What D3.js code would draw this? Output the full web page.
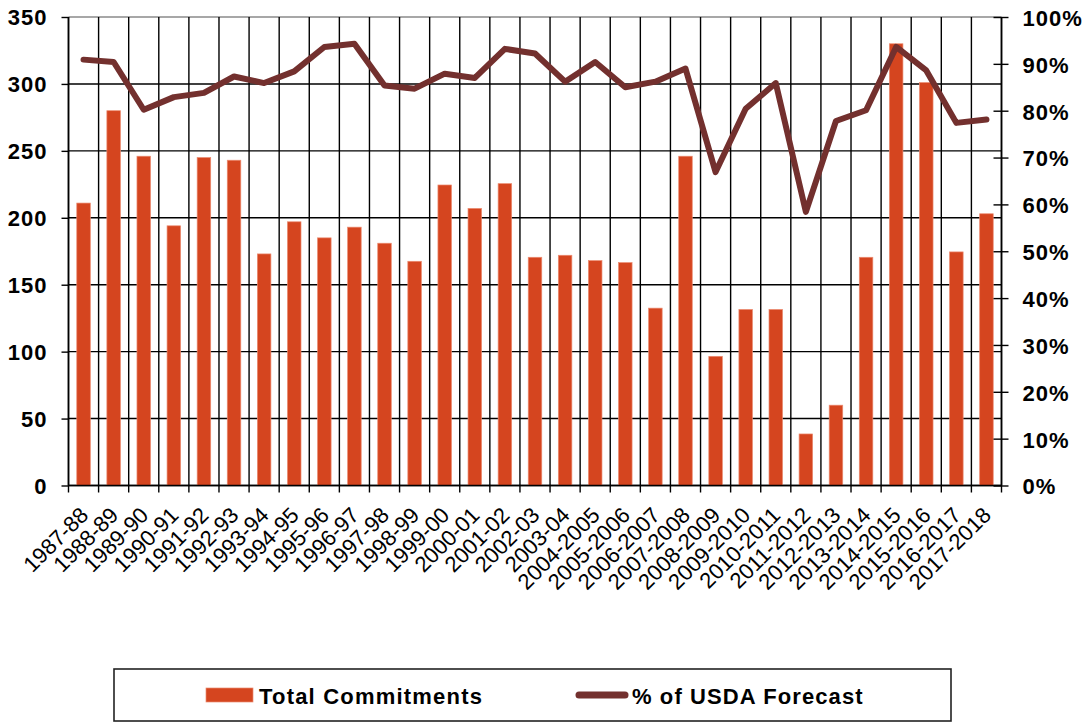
<!DOCTYPE html>
<html>
<head>
<meta charset="utf-8">
<script src="https://cdn.jsdelivr.net/npm/d3@7"></script>
<style>
  html, body { margin: 0; padding: 0; background: #fff; }
  svg { display: block; }
  text { font-family: "Liberation Sans", Arial, sans-serif; }
</style>
</head>
<body>
<svg id="chart" width="1091" height="723"></svg>
<script>
const categories = ["1987-88","1988-89","1989-90","1990-91","1991-92","1992-93","1993-94","1994-95","1995-96","1996-97","1997-98","1998-99","1999-00","2000-01","2001-02","2002-03","2003-04","2004-2005","2005-2006","2006-2007","2007-2008","2008-2009","2009-2010","2010-2011","2011-2012","2012-2013","2013-2014","2014-2015","2015-2016","2016-2017","2017-2018"];
const totalCommitments = [211, 280, 246, 194, 245, 243, 173, 197, 185, 193, 181, 167.5, 224.5, 207, 225.5, 170.5, 172, 168, 166.5, 132.5, 246, 96.5, 131.5, 131.5, 38.5, 60, 170.5, 330, 301, 174.5, 203];
const pctOfForecast = [90.9, 90.4, 80.2, 82.9, 83.8, 87.3, 85.9, 88.4, 93.6, 94.3, 85.4, 84.7, 87.9, 87.0, 93.2, 92.2, 86.2, 90.4, 85.0, 86.2, 89.0, 66.9, 80.4, 85.9, 58.4, 77.8, 80.1, 93.6, 88.6, 77.4, 78.1];
const leftTicks = [0, 50, 100, 150, 200, 250, 300, 350];
const rightTicks = [0, 10, 20, 30, 40, 50, 60, 70, 80, 90, 100];
const seriesNames = ["Total Commitments", "% of USDA Forecast"];

const barColor = "#D5451F";
const lineColor = "#73302E";

const svg = d3.select("#chart");
const pLeft = 68.5, pRight = 1001.5, pTop = 17, pBottom = 485.5;

const x = d3.scaleBand().domain(categories).range([pLeft, pRight]).padding(0);
const yL = d3.scaleLinear().domain([0, 350]).range([pBottom, pTop]);
const yR = d3.scaleLinear().domain([0, 100]).range([pBottom, pTop]);

// horizontal gridlines
const grid = svg.append("g");
grid.selectAll("line.h").data(leftTicks).join("line")
  .attr("x1", pLeft).attr("x2", pRight)
  .attr("y1", d => yL(d)).attr("y2", d => yL(d))
  .attr("stroke", d => d === 350 ? "#8a8a8a" : "#000")
  .attr("stroke-width", 1.4);
// vertical gridlines at category boundaries
const bounds = categories.map(c => x(c)).concat([pRight]);
grid.selectAll("line.v").data(bounds).join("line")
  .attr("x1", d => d).attr("x2", d => d)
  .attr("y1", pTop).attr("y2", pBottom + 7)
  .attr("stroke", "#000").attr("stroke-width", 1.4);

// bars
const bw = x.bandwidth() * 0.45;
svg.append("g").selectAll("rect").data(categories).join("rect")
  .attr("x", (d) => x(d) + x.bandwidth() / 2 - bw / 2)
  .attr("width", bw)
  .attr("y", (d, i) => yL(totalCommitments[i]))
  .attr("height", (d, i) => yL(0) - yL(totalCommitments[i]))
  .attr("fill", barColor)
  .attr("stroke", "#EC8B70").attr("stroke-width", 0.7);

// left axis
const axL = svg.append("g").attr("transform", `translate(${pLeft},0)`)
  .call(d3.axisLeft(yL).tickValues(leftTicks).tickSize(7).tickPadding(14).tickFormat(d3.format("d")));
axL.select(".domain").attr("stroke", "#000").attr("stroke-width", 1.6).attr("d", `M0,${pTop}V${pBottom}`);
axL.selectAll(".tick line").attr("stroke", "#000").attr("stroke-width", 1.4);
axL.selectAll(".tick text").attr("font-size", 22).attr("font-weight", "bold")
  .attr("letter-spacing", "1px").attr("fill", "#000").attr("dy", "0.36em")
  .attr("font-family", "Liberation Sans, Arial, sans-serif");

// right axis
const axR = svg.append("g").attr("transform", `translate(${pRight},0)`)
  .call(d3.axisRight(yR).tickValues(rightTicks).tickSize(7).tickPadding(14).tickFormat(d => d + "%"));
axR.select(".domain").attr("stroke", "#000").attr("stroke-width", 1.6).attr("d", `M0,${pTop}V${pBottom}`);
axR.selectAll(".tick line").attr("stroke", "#000").attr("stroke-width", 1.4).attr("x1", -8).attr("x2", 7);
axR.selectAll(".tick text").attr("font-size", 22).attr("font-weight", "bold")
  .attr("letter-spacing", "1px").attr("fill", "#000").attr("dy", "0.38em")
  .attr("font-family", "Liberation Sans, Arial, sans-serif");

// bottom axis line
svg.append("line").attr("x1", pLeft).attr("x2", pRight).attr("y1", pBottom).attr("y2", pBottom)
  .attr("stroke", "#000").attr("stroke-width", 1.6);

// x labels
svg.append("g").selectAll("text").data(categories).join("text")
  .attr("transform", d => `translate(${x(d) + x.bandwidth() / 2 + 6},${pBottom + 31}) rotate(-45)`)
  .attr("text-anchor", "end")
  .attr("font-size", 22)
  .attr("fill", "#000")
  .text(d => d);

// line
const line = d3.line()
  .x((d, i) => x(categories[i]) + x.bandwidth() / 2)
  .y(d => yR(d));
svg.append("path").datum(pctOfForecast)
  .attr("d", line)
  .attr("fill", "none")
  .attr("stroke", lineColor)
  .attr("stroke-width", 6)
  .attr("stroke-linejoin", "round")
  .attr("stroke-linecap", "round");

// legend
const lg = svg.append("g");
lg.append("rect").attr("x", 114).attr("y", 669).attr("width", 837).attr("height", 52)
  .attr("fill", "#fff").attr("stroke", "#222").attr("stroke-width", 1.6);
lg.append("rect").attr("x", 206).attr("y", 688).attr("width", 47).attr("height", 14)
  .attr("fill", barColor).attr("stroke", "#EC8B70").attr("stroke-width", 0.7);
lg.append("text").attr("x", 259).attr("y", 703.5).attr("font-size", 22).attr("font-weight", "bold")
  .attr("letter-spacing", "1.2px").attr("fill", "#000").text(seriesNames[0]);
lg.append("line").attr("x1", 579).attr("x2", 625).attr("y1", 695).attr("y2", 695)
  .attr("stroke", lineColor).attr("stroke-width", 7).attr("stroke-linecap", "round");
lg.append("text").attr("x", 632).attr("y", 703.5).attr("font-size", 22).attr("font-weight", "bold")
  .attr("letter-spacing", "1.1px").attr("fill", "#000").text(seriesNames[1]);
</script>
</body>
</html>
